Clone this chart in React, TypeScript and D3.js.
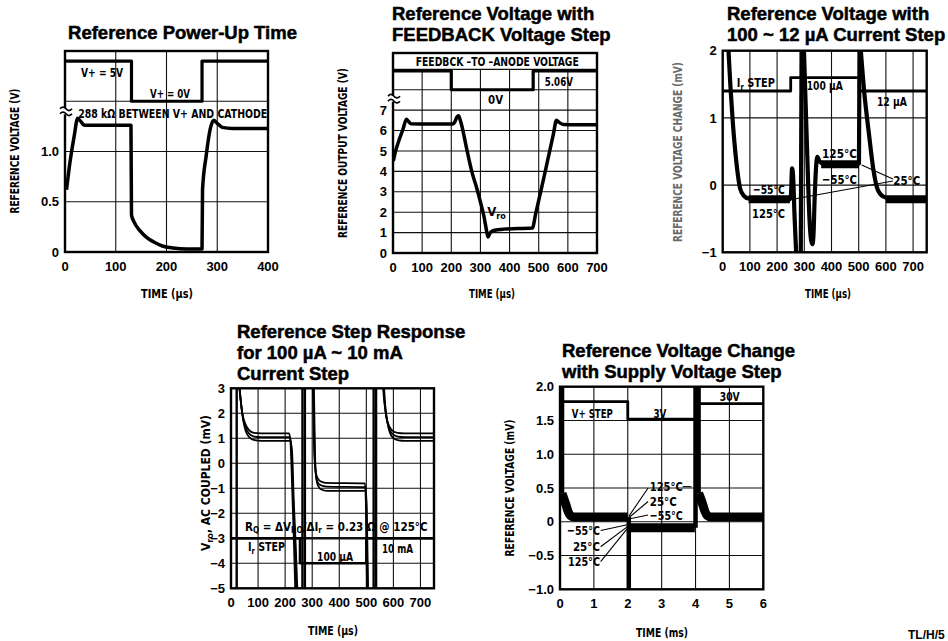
import React from 'react';
import * as d3 from 'd3';

type Pt = [number, number];
type Seg = [number, number, number];

// ---------- Reference Power-Up Time ----------
const powerUpXTicks = [0, 100, 200, 300, 400];
const powerUpYTicks = [0, 0.5, 1.0];
const powerUpXGrid = [100, 200, 300];
const powerUpYGrid = [0.5, 1.0, 1.5];
const powerUpSupply: Pt[] = [[0, 1.9], [131, 1.9], [131, 1.5], [270, 1.5], [270, 1.9], [400, 1.9]];
const powerUpTrace: Pt[] = [
  [3, 0.62], [10, 0.9], [18, 1.15], [25, 1.33], [31, 1.3], [38, 1.26], [60, 1.26], [130, 1.26],
  [131, 0.37], [136, 0.3], [148, 0.21], [162, 0.14], [175, 0.1], [192, 0.06], [213, 0.04], [240, 0.03], [270, 0.03],
  [271, 0.62], [278, 0.95], [286, 1.22], [293, 1.31], [300, 1.28], [310, 1.24], [330, 1.23], [400, 1.23],
];

// ---------- FEEDBACK voltage step ----------
const feedbackXTicks = [0, 100, 200, 300, 400, 500, 600, 700];
const feedbackYTicks = [0, 1, 2, 3, 4, 5, 6, 7];
const feedbackXGrid = [100, 200, 300, 400, 500, 600];
const feedbackYGrid = [1, 2, 3, 4, 5, 6, 7, 8, 9];
const feedbackStep: Pt[] = [[0, 8.92], [200, 8.92], [200, 8.0], [481, 8.0], [481, 8.92], [700, 8.92]];
const feedbackTrace: Pt[] = [
  [1, 4.5], [8, 4.95], [20, 5.5], [35, 6.1], [46, 6.55], [53, 6.45], [62, 6.33], [120, 6.32], [205, 6.32],
  [212, 6.42], [219, 6.65], [225, 6.72], [231, 6.5], [240, 6.0], [250, 5.3], [259, 4.7], [272, 3.9],
  [287, 3.2], [300, 2.5], [312, 1.8], [321, 1.1], [326, 0.78], [333, 0.98], [345, 1.1], [380, 1.17], [478, 1.22],
  [490, 1.95], [510, 3.2], [530, 4.5], [550, 5.8], [561, 6.5], [570, 6.4], [585, 6.3], [700, 6.28],
];

// ---------- 100 ~ 12 uA current step ----------
const smallStepXTicks = [0, 100, 200, 300, 400, 500, 600, 700];
const smallStepYTicks = [-1, 0, 1, 2];
const smallStepXGrid = [100, 200, 300, 400, 500, 600, 700];
const smallStepYGrid = [0, 1];
const smallStepIr: Pt[] = [[0, 1.4], [250, 1.4], [250, 1.6], [502, 1.6], [502, 1.4], [750, 1.4]];
const smallStepTraces: Pt[][] = [
  [[20, 2.1], [28, 1.5], [36, 1.0], [50, 0.35], [64, -0.05], [78, -0.16], [95, -0.2], [130, -0.21], [247, -0.21],
    [251, -0.14], [255, 0.25], [259, 0.12], [264, -0.45], [271, -1.1]],
  [[287, -1.1], [290, 2.1]],
  [[298, 2.1], [305, 1.2], [312, 0.3], [319, -0.5], [325, -0.82], [330, -0.88], [334, -0.72], [338, -0.2],
    [343, 0.25], [348, 0.42], [355, 0.36], [370, 0.32], [501, 0.32], [503, 2.1]],
  [[506, 2.1], [520, 1.4], [538, 0.75], [554, 0.23], [570, -0.07], [590, -0.17], [625, -0.21], [750, -0.21]],
];
const smallStepBands: Seg[] = [[95, 247, -0.21], [362, 501, 0.31], [600, 750, -0.21]];

// ---------- 100 uA ~ 10 mA current step ----------
const bigStepXTicks = [0, 100, 200, 300, 400, 500, 600, 700];
const bigStepYTicks = [-5, -4, -3, -2, -1, 0, 1, 2, 3];
const bigStepXGrid = [100, 200, 300, 400, 500, 600, 700];
const bigStepYGrid = [-4, -3, -2, -1, 0, 1, 2];
const bigStepIr: Pt[] = [[0, -3], [255, -3], [255, -4], [500, -4], [500, -3], [750, -3]];
const bigStepJumps = [21, 264, 273, 527, 536];
const bigStepTraces: Pt[][] = [
  [[28, 3.3], [35, 2.6], [42, 2.0], [52, 1.6], [65, 1.35], [85, 1.22], [110, 1.2], [215, 1.2], [220, 0.8], [226, -1], [232, -3], [238, -5.3]],
  [[29, 3.3], [36, 2.5], [43, 1.9], [53, 1.45], [66, 1.2], [86, 1.07], [111, 1.05], [218, 1.05], [223, 0.6], [229, -1.2], [236, -3.2], [242, -5.3]],
  [[30, 3.3], [37, 2.4], [44, 1.8], [54, 1.3], [67, 1.05], [87, 0.93], [112, 0.9], [220, 0.9], [226, 0.4], [232, -1.5], [240, -3.5], [246, -5.3]],
  [[302, 3.3], [306, 1.0], [311, -0.2], [318, -0.55], [330, -0.72], [350, -0.78], [495, -0.8], [498, -1.5], [503, -5.3]],
  [[304, 3.3], [308, 0.8], [313, -0.4], [320, -0.75], [332, -0.88], [352, -0.93], [497, -0.95], [500, -1.7], [505, -5.3]],
  [[306, 3.3], [310, 0.6], [315, -0.6], [322, -0.9], [334, -1.05], [354, -1.1], [499, -1.1], [502, -2.0], [507, -5.3]],
  [[560, 3.3], [566, 2.5], [573, 1.9], [582, 1.55], [595, 1.32], [615, 1.22], [640, 1.2], [750, 1.2]],
  [[562, 3.3], [568, 2.4], [575, 1.8], [584, 1.4], [597, 1.17], [617, 1.07], [642, 1.05], [750, 1.05]],
  [[564, 3.3], [570, 2.3], [577, 1.7], [586, 1.25], [599, 1.02], [619, 0.92], [644, 0.9], [750, 0.9]],
];

// ---------- Supply voltage step ----------
const supplyXTicks = [0, 1, 2, 3, 4, 5, 6];
const supplyYTicks = [-1.0, -0.5, 0, 0.5, 1.0, 1.5, 2.0];
const supplyXGrid = [1, 2, 3, 4, 5];
const supplyYGrid = [-0.5, 0, 0.5, 1.0, 1.5];
const supplyVStep: Pt[] = [[0, 1.78], [2, 1.78], [2, 1.52], [4, 1.52], [4, 1.75], [6, 1.75]];
const supplyJumps: Seg[] = [[0.06, 2.1, 0.42], [2.03, 0.07, -1.1], [4.0, -0.09, 2.1], [4.09, 2.1, 0.42]];
const supplySettle: Pt[][] = [
  [[0.06, 0.42], [0.1, 0.36], [0.17, 0.26], [0.24, 0.15], [0.31, 0.09], [0.4, 0.07], [2.0, 0.07]],
  [[2.06, -0.09], [3.98, -0.09]],
  [[4.09, 0.42], [4.14, 0.36], [4.21, 0.26], [4.28, 0.15], [4.35, 0.09], [4.44, 0.07], [6, 0.07]],
];

const FONT = '"Liberation Sans", Arial, Helvetica, sans-serif';
const NARROW = '"Liberation Sans Narrow", "DejaVu Sans Condensed", "Arial Narrow", sans-serif';

type Scale = d3.ScaleLinear<number, number>;
interface Frame { x: number; y: number; w: number; h: number }

interface PanelProps {
  id: string;
  frame: Frame;
  xDomain: [number, number];
  yDomain: [number, number];
  xGrid: number[];
  yGrid: number[];
  xTicks: number[];
  yTicks: number[];
  xGridTop?: number;
  heavyY?: number[];
  yFmt?: (v: number) => string;
  marks: (x: Scale, y: Scale) => React.ReactNode;
  notes?: (x: Scale, y: Scale) => React.ReactNode;
}

const minus = (s: string) => s.replace('-', '\u2212');

function Panel(p: PanelProps) {
  const { frame } = p;
  const x = d3.scaleLinear().domain(p.xDomain).range([frame.x, frame.x + frame.w]);
  const y = d3.scaleLinear().domain(p.yDomain).range([frame.y + frame.h, frame.y]);
  const top = p.xGridTop ?? p.yDomain[1];
  const fmt = p.yFmt ?? ((v: number) => minus(String(v)));
  return (
    <g>
      <defs>
        <clipPath id={`clip-${p.id}`}>
          <rect x={frame.x} y={frame.y} width={frame.w} height={frame.h} />
        </clipPath>
      </defs>
      <g stroke="#111" strokeWidth={1.1}>
        {p.xGrid.map(v => (
          <line key={'gx' + v} x1={x(v)} x2={x(v)} y1={y(p.yDomain[0])} y2={y(top)} />
        ))}
        {p.yGrid.map(v => (
          <line key={'gy' + v} x1={frame.x} x2={frame.x + frame.w} y1={y(v)} y2={y(v)}
            strokeWidth={p.heavyY?.includes(v) ? 2.6 : 1.1} />
        ))}
      </g>
      <g clipPath={`url(#clip-${p.id})`}>{p.marks(x, y)}</g>
      <rect x={frame.x} y={frame.y} width={frame.w} height={frame.h} fill="none" stroke="#000" strokeWidth={2.4} />
      {p.notes && p.notes(x, y)}
      <g fontFamily={FONT} fontWeight="bold" fontSize={13} fill="#000">
        {p.xTicks.map(v => (
          <text key={'tx' + v} x={x(v)} y={frame.y + frame.h + 19} textAnchor="middle">{v}</text>
        ))}
        {p.yTicks.map(v => (
          <text key={'ty' + v} x={frame.x - 6} y={y(v)} dy="0.36em" textAnchor="end">{fmt(v)}</text>
        ))}
      </g>
    </g>
  );
}

function AxisBreak({ cx, cy }: { cx: number; cy: number }) {
  const wave = (dy: number) => `M${cx - 6},${cy + dy} q3,-3.5 6,0 t6,0`;
  return (
    <g>
      <rect x={cx - 3} y={cy - 3} width={6} height={6} fill="#fff" />
      <path d={wave(-2.5)} fill="none" stroke="#000" strokeWidth={1.7} />
      <path d={wave(2.5)} fill="none" stroke="#000" strokeWidth={1.7} />
    </g>
  );
}

const lineGen = (x: Scale, y: Scale) => d3.line<Pt>().x(d => x(d[0])).y(d => y(d[1]));
const smoothGen = (x: Scale, y: Scale) => d3.line<Pt>().x(d => x(d[0])).y(d => y(d[1])).curve(d3.curveMonotoneX);

const annot = { fontFamily: NARROW, fontWeight: 'bold' as const, fontSize: 13, fill: '#000' };
const axisTitle = { fontFamily: NARROW, fontWeight: 'bold' as const, fontSize: 12, fill: '#000' };

// condensed annotation squeezed to the width it has in the scan
function Note({ x, y, w, anchor = 'start', size = 13, children }:
  { x: number; y: number; w?: number; anchor?: string; size?: number; children: React.ReactNode }) {
  return (
    <text x={x} y={y} dy="0.36em" textAnchor={anchor} {...annot} fontSize={size}
      textLength={w} lengthAdjust={w ? 'spacingAndGlyphs' : undefined}>
      {children}
    </text>
  );
}

function Title({ x, y, lines, anchor = 'start' }: { x: number; y: number; lines: string[]; anchor?: string }) {
  return (
    <text x={x} y={y} fontFamily={FONT} fontWeight="bold" fontSize={18.5} textAnchor={anchor}
      fill="#000" stroke="#000" strokeWidth={0.5}>
      {lines.map((l, i) => (
        <tspan key={i} x={x} dy={i === 0 ? 0 : 21}>{l}</tspan>
      ))}
    </text>
  );
}

function YTitle({ x, y, len, children, fill = '#000' }: { x: number; y: number; len?: number; children: React.ReactNode; fill?: string }) {
  return (
    <text transform={`translate(${x},${y}) rotate(-90)`} textAnchor="middle" dy="0.35em"
      textLength={len} lengthAdjust={len ? 'spacingAndGlyphs' : undefined} {...axisTitle} fill={fill}>
      {children}
    </text>
  );
}

function XTitle({ x, y, w, children }: { x: number; y: number; w: number; children: React.ReactNode }) {
  return (
    <text x={x} y={y} textAnchor="middle" dy="0.35em" {...axisTitle} fontSize={13}
      textLength={w} lengthAdjust="spacingAndGlyphs">{children}</text>
  );
}

export default function App() {
  return (
    <svg width={948} height={641} viewBox="0 0 948 641"
      style={{ position: 'absolute', left: 0, top: 0, background: '#fff' }}>
      <rect width={948} height={641} fill="#fff" />

      {/* Power-up time */}
      <Title x={182.5} y={39} lines={['Reference Power-Up Time']} anchor="middle" />
      <Panel id="p1" frame={{ x: 65, y: 51, w: 203, h: 201 }} xDomain={[0, 400]} yDomain={[0, 2]}
        xGrid={powerUpXGrid} yGrid={powerUpYGrid} xTicks={powerUpXTicks} yTicks={powerUpYTicks}
        yFmt={v => (v === 0 ? '0' : v.toFixed(1))}
        marks={(x, y) => (
          <g fill="none" stroke="#000" strokeLinejoin="round">
            <path d={lineGen(x, y)(powerUpSupply) ?? ''} strokeWidth={3.2} />
            <path d={smoothGen(x, y)(powerUpTrace) ?? ''} strokeWidth={3.5} />
          </g>
        )}
        notes={(x, y) => (
          <g>
            <Note x={x(73)} y={y(1.79)} w={42} anchor="middle">V+ = 5V</Note>
            <Note x={x(207)} y={y(1.58)} w={40} anchor="middle">V+ = 0V</Note>
            <Note x={x(26)} y={y(1.38)} w={189}>288 kΩ  BETWEEN V+ AND CATHODE</Note>
            <AxisBreak cx={x(0) + 1} cy={y(1.4)} />
          </g>
        )}
      />
      <YTitle x={15} y={151} len={125}>REFERENCE VOLTAGE (V)</YTitle>
      <XTitle x={167} y={293} w={52}>TIME (µs)</XTitle>

      {/* FEEDBACK voltage step */}
      <Title x={392} y={20} lines={['Reference Voltage with', 'FEEDBACK Voltage Step']} />
      <Panel id="p2" frame={{ x: 393, y: 53, w: 204, h: 200 }} xDomain={[0, 700]} yDomain={[0, 9.8]}
        xGrid={feedbackXGrid} yGrid={feedbackYGrid} xTicks={feedbackXTicks} yTicks={feedbackYTicks} xGridTop={9}
        marks={(x, y) => (
          <g fill="none" stroke="#000" strokeLinejoin="round">
            <path d={lineGen(x, y)(feedbackStep) ?? ''} strokeWidth={3.2} />
            <path d={smoothGen(x, y)(feedbackTrace) ?? ''} strokeWidth={3.5} />
          </g>
        )}
        notes={(x, y) => (
          <g>
            <Note x={x(78)} y={y(9.39)} w={163}>FEEDBCK –TO –ANODE VOLTAGE</Note>
            <Note x={x(521)} y={y(8.41)} w={28}>5.06V</Note>
            <Note x={x(352)} y={y(7.51)} w={15} anchor="middle">0V</Note>
            <Note x={x(323)} y={y(2.05)}>V<tspan dy={3} fontSize={9}>ro</tspan></Note>
            <AxisBreak cx={x(0) + 1} cy={y(7.56)} />
          </g>
        )}
      />
      <YTitle x={343} y={153} len={170}>REFERENCE OUTPUT VOLTAGE (V)</YTitle>
      <XTitle x={492} y={293} w={46}>TIME (µs)</XTitle>

      {/* 100 ~ 12 uA current step */}
      <Title x={727} y={20} lines={['Reference Voltage with', '100 ~ 12 µA Current Step']} />
      <Panel id="p3" frame={{ x: 722.7, y: 50.7, w: 204, h: 201.6 }} xDomain={[0, 750]} yDomain={[-1, 2]}
        xGrid={smallStepXGrid} yGrid={smallStepYGrid} xTicks={smallStepXTicks} yTicks={smallStepYTicks}
        marks={(x, y) => (
          <g fill="none" stroke="#000" strokeLinejoin="round">
            <path d={lineGen(x, y)(smallStepIr) ?? ''} strokeWidth={2.8} />
            {smallStepTraces.map((t, i) => (
              <path key={i} d={smoothGen(x, y)(t) ?? ''} strokeWidth={4.2} />
            ))}
            {smallStepBands.map(([t0, t1, v], i) => (
              <line key={'b' + i} x1={x(t0)} x2={x(t1)} y1={y(v)} y2={y(v)} strokeWidth={8} />
            ))}
            <line x1={x(626)} y1={y(0.09)} x2={x(511)} y2={y(0.3)} strokeWidth={1.1} />
            <line x1={x(626)} y1={y(0.06)} x2={x(258)} y2={y(-0.21)} strokeWidth={1.1} />
          </g>
        )}
        notes={(x, y) => (
          <g>
            <Note x={x(52)} y={y(1.53)} w={38}>I<tspan dy={3} fontSize={9}>r</tspan><tspan dy={-3}> STEP</tspan></Note>
            <Note x={x(309)} y={y(1.49)} w={36}>100 µA</Note>
            <Note x={x(567)} y={y(1.24)} w={30}>12 µA</Note>
            <Note x={x(111)} y={y(-0.06)} w={32}>−55°C</Note>
            <Note x={x(108)} y={y(-0.42)} w={33}>125°C</Note>
            <Note x={x(365)} y={y(0.48)} w={35}>125°C</Note>
            <Note x={x(365)} y={y(0.09)} w={35}>−55°C</Note>
            <Note x={x(627)} y={y(0.07)} w={27}>25°C</Note>
          </g>
        )}
      />
      <YTitle x={678} y={152} len={180} fill="#6a6a6a">REFERENCE VOLTAGE CHANGE (mV)</YTitle>
      <XTitle x={828} y={293} w={46}>TIME (µs)</XTitle>

      {/* 100 uA ~ 10 mA current step */}
      <Title x={237} y={338} lines={['Reference Step Response', 'for 100 µA ~  10 mA', 'Current Step']} />
      <Panel id="p4" frame={{ x: 231, y: 388.3, w: 203, h: 200 }} xDomain={[0, 750]} yDomain={[-5, 3]}
        xGrid={bigStepXGrid} yGrid={bigStepYGrid} xTicks={bigStepXTicks} yTicks={bigStepYTicks} heavyY={[-3]}
        marks={(x, y) => (
          <g fill="none" stroke="#000" strokeLinejoin="round">
            <path d={lineGen(x, y)(bigStepIr) ?? ''} strokeWidth={2.6} />
            {bigStepJumps.map(t => (
              <line key={t} x1={x(t)} x2={x(t)} y1={y(-5.3)} y2={y(3.3)} strokeWidth={2.4} />
            ))}
            {bigStepTraces.map((t, i) => (
              <path key={i} d={smoothGen(x, y)(t) ?? ''} strokeWidth={1.8} />
            ))}
          </g>
        )}
        notes={(x, y) => (
          <g>
            <Note x={x(52)} y={y(-2.54)} size={11.5}>
              R<tspan dy={2.5} fontSize={8}>Q</tspan><tspan dy={-2.5}> = ΔV</tspan><tspan dy={2.5} fontSize={8}>RO</tspan><tspan dy={-2.5}>/ΔI</tspan><tspan dy={2.5} fontSize={8}>r</tspan><tspan dy={-2.5}> = 0.23 Ω @ 125°C</tspan>
            </Note>
            <Note x={x(63)} y={y(-3.34)} w={37} size={12}>I<tspan dy={3} fontSize={8.5}>r</tspan><tspan dy={-3}> STEP</tspan></Note>
            <Note x={x(318)} y={y(-3.74)} w={36}>100 µA</Note>
            <Note x={x(558)} y={y(-3.39)} w={31}>10 mA</Note>
          </g>
        )}
      />
      <YTitle x={206} y={483}>V<tspan dy={3} fontSize={9}>ro</tspan><tspan dy={-3}>, AC COUPLED (mV)</tspan></YTitle>
      <XTitle x={333} y={630} w={50}>TIME (µs)</XTitle>

      {/* Supply voltage step */}
      <Title x={562} y={357} lines={['Reference Voltage Change', 'with Supply Voltage Step']} />
      <Panel id="p5" frame={{ x: 560, y: 386.7, w: 203.3, h: 202.6 }} xDomain={[0, 6]} yDomain={[-1, 2]}
        xGrid={supplyXGrid} yGrid={supplyYGrid} xTicks={supplyXTicks} yTicks={supplyYTicks}
        yFmt={v => (v === 0 ? '0' : minus(v.toFixed(1)))}
        marks={(x, y) => (
          <g fill="none" stroke="#000" strokeLinejoin="round">
            <path d={lineGen(x, y)(supplyVStep) ?? ''} strokeWidth={2.8} />
            {supplyJumps.map(([t, v0, v1], i) => (
              <line key={i} x1={x(t)} x2={x(t)} y1={y(v0)} y2={y(v1)} strokeWidth={4.5} />
            ))}
            {supplySettle.map((s, i) => (
              <path key={'s' + i} d={smoothGen(x, y)(s) ?? ''} strokeWidth={9} />
            ))}
          </g>
        )}
        notes={(x, y) => (
          <g>
            <g stroke="#000" strokeWidth={1.1}>
              <line x1={x(2.6)} y1={y(0.5)} x2={x(2.03)} y2={y(0.08)} />
              <line x1={x(2.6)} y1={y(0.3)} x2={x(2.03)} y2={y(0.06)} />
              <line x1={x(2.6)} y1={y(0.1)} x2={x(2.03)} y2={y(0.04)} />
              <line x1={x(3.62)} y1={y(0.52)} x2={x(3.88)} y2={y(0.52)} />
              <line x1={x(1.2)} y1={y(-0.13)} x2={x(2.02)} y2={y(-0.04)} />
              <line x1={x(1.2)} y1={y(-0.37)} x2={x(2.02)} y2={y(-0.06)} />
              <line x1={x(1.2)} y1={y(-0.59)} x2={x(2.02)} y2={y(-0.08)} />
            </g>
            <Note x={x(0.35)} y={y(1.61)} w={41}>V+ STEP</Note>
            <Note x={x(2.95)} y={y(1.61)} w={13} anchor="middle">3V</Note>
            <Note x={x(5.01)} y={y(1.86)} w={20} anchor="middle">30V</Note>
            <Note x={x(2.65)} y={y(0.52)} w={33}>125°C</Note>
            <Note x={x(2.65)} y={y(0.3)} w={27}>25°C</Note>
            <Note x={x(2.65)} y={y(0.1)} w={33}>−55°C</Note>
            <Note x={x(1.18)} y={y(-0.13)} w={33} anchor="end">−55°C</Note>
            <Note x={x(1.18)} y={y(-0.37)} w={27} anchor="end">25°C</Note>
            <Note x={x(1.18)} y={y(-0.59)} w={32} anchor="end">125°C</Note>
          </g>
        )}
      />
      <YTitle x={510} y={488} len={137}>REFERENCE VOLTAGE (mV)</YTitle>
      <XTitle x={662} y={632} w={52}>TIME (ms)</XTitle>

      <text x={908} y={639} fontFamily={FONT} fontWeight="bold" fontSize={12}>TL/H/5</text>
    </svg>
  );
}
